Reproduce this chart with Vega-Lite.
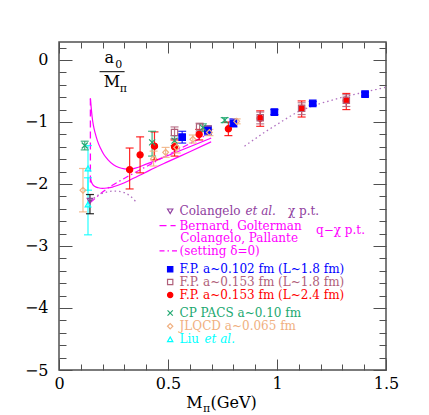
{
  "$schema": "https://vega.github.io/schema/vega-lite/v6.json",
  "width": 327,
  "height": 328,
  "autosize": "none",
  "padding": {"left": 59, "top": 42, "right": 43, "bottom": 45},
  "background": "white",
  "config": {
    "view": {"stroke": "#505050", "strokeWidth": 1.5},
    "axis": {"labelFont": "DejaVu Serif", "labelFontSize": 16, "labelColor": "#000000", "tickColor": "#505050", "tickWidth": 1, "domain": false, "grid": false, "labelFlush": false, "labelOverlap": false},
    "text": {"font": "DejaVu Serif"}
  },
  "datasets": {
    "points": [
      {"series": "FP153_L24", "x": 0.324, "y": -1.77, "lo": -2.08, "hi": -1.42},
      {"series": "FP153_L24", "x": 0.372, "y": -1.53, "lo": -1.82, "hi": -1.24},
      {"series": "FP153_L24", "x": 0.438, "y": -1.39, "lo": -1.61, "hi": -1.16},
      {"series": "FP153_L24", "x": 0.530, "y": -1.40, "lo": -1.55, "hi": -1.29},
      {"series": "FP153_L24", "x": 0.643, "y": -1.20, "lo": -1.29, "hi": -1.12},
      {"series": "FP153_L24", "x": 0.777, "y": -1.11, "lo": -1.22, "hi": -1.00},
      {"series": "FP153_L24", "x": 0.923, "y": -0.94, "lo": -1.07, "hi": -0.82},
      {"series": "FP153_L24", "x": 1.113, "y": -0.78, "lo": -0.92, "hi": -0.66},
      {"series": "FP153_L24", "x": 1.318, "y": -0.655, "lo": -0.80, "hi": -0.54},
      {"series": "FP153_L18", "x": 0.530, "y": -1.17, "lo": -1.27, "hi": -1.08},
      {"series": "FP153_L18", "x": 0.645, "y": -1.08, "lo": -1.16, "hi": -1.02},
      {"series": "FP153_L18", "x": 0.683, "y": -1.12, "lo": -1.18, "hi": -1.06},
      {"series": "FP153_L18", "x": 0.923, "y": -0.93, "lo": -1.03, "hi": -0.84},
      {"series": "FP153_L18", "x": 1.113, "y": -0.78, "lo": -0.88, "hi": -0.69},
      {"series": "FP153_L18", "x": 1.318, "y": -0.65, "lo": -0.75, "hi": -0.56},
      {"series": "FP102_L18", "x": 0.565, "y": -1.245, "lo": -1.34, "hi": -1.15},
      {"series": "FP102_L18", "x": 0.683, "y": -1.14, "lo": -1.21, "hi": -1.07},
      {"series": "FP102_L18", "x": 0.800, "y": -1.02, "lo": -1.08, "hi": -0.95},
      {"series": "FP102_L18", "x": 0.988, "y": -0.84, "lo": -0.88, "hi": -0.80},
      {"series": "FP102_L18", "x": 1.164, "y": -0.70, "lo": -0.73, "hi": -0.67},
      {"series": "FP102_L18", "x": 1.404, "y": -0.55, "lo": -0.58, "hi": -0.52},
      {"series": "CPPACS", "x": 0.118, "y": -1.38, "lo": -1.45, "hi": -1.31},
      {"series": "CPPACS", "x": 0.427, "y": -1.33, "lo": -1.55, "hi": -1.15},
      {"series": "CPPACS", "x": 0.530, "y": -1.30, "lo": -1.38, "hi": -1.22},
      {"series": "CPPACS", "x": 0.660, "y": -1.09, "lo": -1.15, "hi": -1.03},
      {"series": "CPPACS", "x": 0.760, "y": -0.97, "lo": -1.01, "hi": -0.93},
      {"series": "JLQCD", "x": 0.110, "y": -2.10, "lo": -2.45, "hi": -1.75},
      {"series": "JLQCD", "x": 0.434, "y": -1.59, "lo": -1.71, "hi": -1.47},
      {"series": "JLQCD", "x": 0.489, "y": -1.49, "lo": -1.57, "hi": -1.41},
      {"series": "JLQCD", "x": 0.540, "y": -1.41, "lo": -1.50, "hi": -1.33},
      {"series": "JLQCD", "x": 0.614, "y": -1.28, "lo": -1.34, "hi": -1.21},
      {"series": "JLQCD", "x": 0.690, "y": -1.17, "lo": -1.22, "hi": -1.12},
      {"series": "JLQCD", "x": 0.815, "y": -0.99, "lo": -1.03, "hi": -0.95},
      {"series": "Liu", "x": 0.133, "y": -1.75, "lo": -2.10, "hi": -1.38},
      {"series": "Liu", "x": 0.133, "y": -2.33, "lo": -2.82, "hi": -1.90},
      {"series": "Colangelo", "x": 0.142, "y": -2.27, "lo": -2.48, "hi": -2.17}
    ],
    "curves": [
      {"curve": "U", "x": 0.144, "y": -0.62}, {"curve": "U", "x": 0.148, "y": -0.78}, {"curve": "U", "x": 0.152, "y": -0.92},
      {"curve": "U", "x": 0.158, "y": -1.06}, {"curve": "U", "x": 0.166, "y": -1.18}, {"curve": "U", "x": 0.176, "y": -1.30},
      {"curve": "U", "x": 0.19, "y": -1.42}, {"curve": "U", "x": 0.205, "y": -1.52}, {"curve": "U", "x": 0.225, "y": -1.61},
      {"curve": "U", "x": 0.25, "y": -1.69}, {"curve": "U", "x": 0.275, "y": -1.735}, {"curve": "U", "x": 0.3, "y": -1.755},
      {"curve": "U", "x": 0.325, "y": -1.76}, {"curve": "U", "x": 0.35, "y": -1.745}, {"curve": "U", "x": 0.4, "y": -1.68},
      {"curve": "U", "x": 0.5, "y": -1.54}, {"curve": "U", "x": 0.6, "y": -1.40}, {"curve": "U", "x": 0.698, "y": -1.26},
      {"curve": "L", "x": 0.144, "y": -1.90}, {"curve": "L", "x": 0.148, "y": -1.96}, {"curve": "L", "x": 0.155, "y": -2.01},
      {"curve": "L", "x": 0.165, "y": -2.04}, {"curve": "L", "x": 0.18, "y": -2.06}, {"curve": "L", "x": 0.2, "y": -2.07},
      {"curve": "L", "x": 0.22, "y": -2.065}, {"curve": "L", "x": 0.245, "y": -2.05}, {"curve": "L", "x": 0.27, "y": -2.02},
      {"curve": "L", "x": 0.3, "y": -1.98}, {"curve": "L", "x": 0.324, "y": -1.94}, {"curve": "L", "x": 0.37, "y": -1.86},
      {"curve": "L", "x": 0.415, "y": -1.78}, {"curve": "L", "x": 0.5, "y": -1.64}, {"curve": "L", "x": 0.6, "y": -1.48},
      {"curve": "L", "x": 0.698, "y": -1.32},
      {"curve": "D", "x": 0.144, "y": -2.30}, {"curve": "D", "x": 0.17, "y": -2.22}, {"curve": "D", "x": 0.2, "y": -2.13},
      {"curve": "D", "x": 0.24, "y": -2.03}, {"curve": "D", "x": 0.28, "y": -1.95}, {"curve": "D", "x": 0.33, "y": -1.85},
      {"curve": "D", "x": 0.4, "y": -1.72}, {"curve": "D", "x": 0.5, "y": -1.53}, {"curve": "D", "x": 0.6, "y": -1.35},
      {"curve": "D", "x": 0.698, "y": -1.17},
      {"curve": "dotLow", "x": 0.144, "y": -2.28}, {"curve": "dotLow", "x": 0.16, "y": -2.23}, {"curve": "dotLow", "x": 0.18, "y": -2.18},
      {"curve": "dotLow", "x": 0.2, "y": -2.15}, {"curve": "dotLow", "x": 0.225, "y": -2.125}, {"curve": "dotLow", "x": 0.25, "y": -2.115},
      {"curve": "dotLow", "x": 0.275, "y": -2.12}, {"curve": "dotLow", "x": 0.3, "y": -2.14}, {"curve": "dotLow", "x": 0.325, "y": -2.19},
      {"curve": "dotLow", "x": 0.351, "y": -2.28},
      {"curve": "dotHigh", "x": 0.851, "y": -1.39}, {"curve": "dotHigh", "x": 0.9, "y": -1.27}, {"curve": "dotHigh", "x": 0.95, "y": -1.15},
      {"curve": "dotHigh", "x": 1.0, "y": -1.04}, {"curve": "dotHigh", "x": 1.05, "y": -0.93}, {"curve": "dotHigh", "x": 1.1, "y": -0.83},
      {"curve": "dotHigh", "x": 1.15, "y": -0.76}, {"curve": "dotHigh", "x": 1.2, "y": -0.70}, {"curve": "dotHigh", "x": 1.25, "y": -0.65},
      {"curve": "dotHigh", "x": 1.3, "y": -0.60}, {"curve": "dotHigh", "x": 1.35, "y": -0.56}, {"curve": "dotHigh", "x": 1.4, "y": -0.52},
      {"curve": "dotHigh", "x": 1.45, "y": -0.48}, {"curve": "dotHigh", "x": 1.5, "y": -0.44}
    ],
    "labels": [
      {"series": "Colangelo", "x": 0.553, "y": -2.44, "text": "Colangelo"},
      {"series": "Colangelo", "x": 1.05, "y": -2.44, "text": "χ p.t."},
      {"series": "qChPT", "x": 0.553, "y": -2.67, "text": "Bernard, Golterman"},
      {"series": "qChPT", "x": 0.556, "y": -2.875, "text": "Colangelo, Pallante"},
      {"series": "qChPT", "x": 0.553, "y": -3.08, "text": "(setting δ=0)"},
      {"series": "qChPT", "x": 1.179, "y": -2.74, "text": "q−χ p.t."},
      {"series": "FP102_L18", "x": 0.553, "y": -3.376, "text": "F.P. a~0.102 fm (L~1.8 fm)"},
      {"series": "FP153_L18", "x": 0.553, "y": -3.58, "text": "F.P. a~0.153 fm (L~1.8 fm)"},
      {"series": "FP153_L24", "x": 0.553, "y": -3.79, "text": "F.P. a~0.153 fm (L~2.4 fm)"},
      {"series": "CPPACS", "x": 0.553, "y": -4.08, "text": "CP PACS a~0.10 fm"},
      {"series": "JLQCD", "x": 0.553, "y": -4.295, "text": "JLQCD a~0.065 fm"},
      {"series": "Liu", "x": 0.553, "y": -4.505, "text": "Liu"}
    ],
    "italic": [
      {"series": "Colangelo", "x": 0.855, "y": -2.44, "text": "et al."},
      {"series": "Liu", "x": 0.667, "y": -4.505, "text": "et al."}
    ],
    "legsym": [
      {"series": "Colangelo", "x": 0.51, "y": -2.44},
      {"series": "FP102_L18", "x": 0.51, "y": -3.376},
      {"series": "FP153_L18", "x": 0.51, "y": -3.58},
      {"series": "FP153_L24", "x": 0.51, "y": -3.79},
      {"series": "CPPACS", "x": 0.51, "y": -4.08},
      {"series": "JLQCD", "x": 0.51, "y": -4.295},
      {"series": "Liu", "x": 0.51, "y": -4.505}
    ]
  },
  "layer": [
    {
      "encoding": {
        "x": {"field": "x", "type": "quantitative", "scale": {"domain": [0, 1.5], "nice": false, "zero": false},
          "axis": {"orient": "bottom", "title": null, "values": [0, 0.5, 1, 1.5], "format": "~g", "ticks": false, "labelPadding": 5}},
        "y": {"field": "y", "type": "quantitative", "scale": {"domain": [-5, 0.29], "nice": false, "zero": false},
          "axis": {"orient": "left", "title": null, "values": [-5, -4, -3, -2, -1, 0], "format": "d", "ticks": false, "labelPadding": 11}}
      },
      "layer": [
        {
          "data": {"name": "curves"},
          "transform": [{"filter": "datum.curve === 'U' || datum.curve === 'L'"}],
          "mark": {"type": "line", "color": "#ff00ff", "strokeWidth": 1.2, "interpolate": "monotone"},
          "encoding": {"detail": {"field": "curve"}}
        },
        {
          "data": {"name": "curves"},
          "transform": [{"filter": "datum.curve === 'D'"}],
          "mark": {"type": "line", "color": "#ff00ff", "strokeWidth": 1.2, "strokeDash": [6, 3, 1.5, 3], "interpolate": "monotone"},
          "encoding": {}
        },
        {
          "data": {"name": "curves"},
          "transform": [{"filter": "datum.curve === 'dotLow' || datum.curve === 'dotHigh'"}],
          "mark": {"type": "line", "color": "#b070c0", "strokeWidth": 1.3, "strokeDash": [1.5, 3], "interpolate": "monotone"},
          "encoding": {"detail": {"field": "curve"}}
        },
        {
          "data": {"values": [{"x": 0.144, "y": -0.62, "y2": -2.0}]},
          "mark": {"type": "rule", "color": "#ff00ff", "strokeWidth": 1.3, "strokeDash": [7, 4]},
          "encoding": {"y2": {"field": "y2"}}
        },
        {
          "data": {"values": [{"x": 0.461, "x2": 0.535, "y": -2.67}]},
          "mark": {"type": "rule", "color": "#ff00ff", "strokeWidth": 1.2, "strokeDash": [7, 4]},
          "encoding": {"x2": {"field": "x2"}}
        },
        {
          "data": {"values": [{"x": 0.461, "x2": 0.545, "y": -3.08}]},
          "mark": {"type": "rule", "color": "#ff00ff", "strokeWidth": 1.2, "strokeDash": [5, 3, 1.5, 3]},
          "encoding": {"x2": {"field": "x2"}}
        },
        {
          "data": {"values": [{"x": 0.186, "x2": 0.301, "y": -0.189}]},
          "mark": {"type": "rule", "color": "#000000", "strokeWidth": 1},
          "encoding": {"x2": {"field": "x2"}}
        },
        {
          "data": {"name": "points"},
          "mark": {"type": "rule", "strokeWidth": 1.2, "opacity": 0.85},
          "encoding": {
            "y": {"field": "lo", "type": "quantitative", "scale": {"domain": [-5, 0.29], "nice": false, "zero": false},
              "axis": {"orient": "left", "title": null, "values": [-5, -4, -3, -2, -1, 0], "format": "d", "ticks": false, "labelPadding": 11}},
            "y2": {"field": "hi"},
            "color": {"condition": {"test": "datum.series === 'Colangelo'", "value": "#000000"}, "field": "series", "type": "nominal",
              "scale": {"domain": ["FP102_L18", "FP153_L18", "FP153_L24", "CPPACS", "JLQCD", "Liu", "Colangelo", "qChPT"], "range": ["#0000ff", "#b0607a", "#ff0000", "#20a870", "#f0b080", "#00ffff", "#9040a0", "#ff00ff"]}, "legend": null}
          }
        },
        {
          "data": {"name": "points"},
          "mark": {"type": "tick", "orient": "horizontal", "size": 8, "thickness": 1.2, "opacity": 0.85},
          "encoding": {
            "y": {"field": "lo", "type": "quantitative", "scale": {"domain": [-5, 0.29], "nice": false, "zero": false},
              "axis": {"orient": "left", "title": null, "values": [-5, -4, -3, -2, -1, 0], "format": "d", "ticks": false, "labelPadding": 11}},
            "color": {"condition": {"test": "datum.series === 'Colangelo'", "value": "#000000"}, "field": "series", "type": "nominal",
              "scale": {"domain": ["FP102_L18", "FP153_L18", "FP153_L24", "CPPACS", "JLQCD", "Liu", "Colangelo", "qChPT"], "range": ["#0000ff", "#b0607a", "#ff0000", "#20a870", "#f0b080", "#00ffff", "#9040a0", "#ff00ff"]}, "legend": null}
          }
        },
        {
          "data": {"name": "points"},
          "mark": {"type": "tick", "orient": "horizontal", "size": 8, "thickness": 1.2, "opacity": 0.85},
          "encoding": {
            "y": {"field": "hi", "type": "quantitative", "scale": {"domain": [-5, 0.29], "nice": false, "zero": false},
              "axis": {"orient": "left", "title": null, "values": [-5, -4, -3, -2, -1, 0], "format": "d", "ticks": false, "labelPadding": 11}},
            "color": {"condition": {"test": "datum.series === 'Colangelo'", "value": "#000000"}, "field": "series", "type": "nominal",
              "scale": {"domain": ["FP102_L18", "FP153_L18", "FP153_L24", "CPPACS", "JLQCD", "Liu", "Colangelo", "qChPT"], "range": ["#0000ff", "#b0607a", "#ff0000", "#20a870", "#f0b080", "#00ffff", "#9040a0", "#ff00ff"]}, "legend": null}
          }
        },
        {
          "data": {"name": "points"},
          "mark": {"type": "point", "strokeWidth": 1.2, "opacity": 1},
          "encoding": {
            "shape": {"field": "series", "type": "nominal", "scale": {"domain": ["FP102_L18", "FP153_L18", "FP153_L24", "CPPACS", "JLQCD", "Liu", "Colangelo"], "range": ["square", "square", "circle", "M-1,-1L1,1M-1,1L1,-1", "diamond", "triangle-up", "triangle-down"]}, "legend": null},
            "fill": {"field": "series", "type": "nominal", "scale": {"domain": ["FP102_L18", "FP153_L18", "FP153_L24", "CPPACS", "JLQCD", "Liu", "Colangelo"], "range": ["#0000ff", "transparent", "#ff0000", "transparent", "transparent", "transparent", "transparent"]}, "legend": null},
            "stroke": {"field": "series", "type": "nominal", "scale": {"domain": ["FP102_L18", "FP153_L18", "FP153_L24", "CPPACS", "JLQCD", "Liu", "Colangelo"], "range": ["#0000ff", "#b0607a", "#ff0000", "#20a870", "#f0b080", "#00ffff", "#9040a0"]}, "legend": null},
            "size": {"field": "series", "type": "nominal", "scale": {"domain": ["FP102_L18", "FP153_L18", "FP153_L24", "CPPACS", "JLQCD", "Liu", "Colangelo"], "range": [42, 30, 60, 25, 35, 40, 40]}, "legend": null}
          }
        },
        {
          "data": {"name": "legsym"},
          "mark": {"type": "point", "strokeWidth": 1.2, "size": 28, "opacity": 1},
          "encoding": {
            "shape": {"field": "series", "type": "nominal", "scale": {"domain": ["FP102_L18", "FP153_L18", "FP153_L24", "CPPACS", "JLQCD", "Liu", "Colangelo"], "range": ["square", "square", "circle", "M-1,-1L1,1M-1,1L1,-1", "diamond", "triangle-up", "triangle-down"]}, "legend": null},
            "fill": {"field": "series", "type": "nominal", "scale": {"domain": ["FP102_L18", "FP153_L18", "FP153_L24", "CPPACS", "JLQCD", "Liu", "Colangelo"], "range": ["#0000ff", "transparent", "#ff0000", "transparent", "transparent", "transparent", "transparent"]}, "legend": null},
            "stroke": {"field": "series", "type": "nominal", "scale": {"domain": ["FP102_L18", "FP153_L18", "FP153_L24", "CPPACS", "JLQCD", "Liu", "Colangelo"], "range": ["#0000ff", "#b0607a", "#ff0000", "#20a870", "#f0b080", "#00ffff", "#9040a0"]}, "legend": null}
          }
        },
        {
          "data": {"name": "labels"},
          "mark": {"type": "text", "align": "left", "baseline": "middle", "fontSize": 12, "font": "DejaVu Serif"},
          "encoding": {
            "text": {"field": "text"},
            "color": {"field": "series", "type": "nominal",
              "scale": {"domain": ["FP102_L18", "FP153_L18", "FP153_L24", "CPPACS", "JLQCD", "Liu", "Colangelo", "qChPT"], "range": ["#0000ff", "#b0607a", "#ff0000", "#20a870", "#f0b080", "#00ffff", "#9040a0", "#ff00ff"]}, "legend": null}
          }
        },
        {
          "data": {"name": "italic"},
          "mark": {"type": "text", "align": "left", "baseline": "middle", "fontSize": 12, "fontStyle": "italic", "font": "DejaVu Serif"},
          "encoding": {
            "text": {"field": "text"},
            "color": {"field": "series", "type": "nominal",
              "scale": {"domain": ["FP102_L18", "FP153_L18", "FP153_L24", "CPPACS", "JLQCD", "Liu", "Colangelo", "qChPT"], "range": ["#0000ff", "#b0607a", "#ff0000", "#20a870", "#f0b080", "#00ffff", "#9040a0", "#ff00ff"]}, "legend": null}
          }
        },
        {
          "data": {"values": [
            {"x": 0.209, "y": -0.053, "text": "a"},
            {"x": 0.205, "y": -0.43, "text": "M"},
            {"x": 0.584, "y": -5.618, "text": "M"},
            {"x": 0.695, "y": -5.618, "text": "(GeV)"}
          ]},
          "mark": {"type": "text", "align": "left", "baseline": "alphabetic", "fontSize": 16, "font": "DejaVu Serif", "color": "#000000"},
          "encoding": {"text": {"field": "text"}}
        },
        {
          "data": {"values": [
            {"x": 0.258, "y": -0.134, "text": "0"},
            {"x": 0.279, "y": -0.51, "text": "π"},
            {"x": 0.660, "y": -5.677, "text": "π"}
          ]},
          "mark": {"type": "text", "align": "left", "baseline": "alphabetic", "fontSize": 11, "font": "DejaVu Serif", "color": "#000000"},
          "encoding": {"text": {"field": "text"}}
        }
      ]
    },
    {
      "data": {"values": [{"x": 0.5, "y": -1}]},
      "mark": {"type": "point", "opacity": 0},
      "encoding": {
        "x": {"field": "x", "type": "quantitative", "scale": {"domain": [0, 1.5], "nice": false, "zero": false},
          "axis": {"orient": "top", "offset": -328, "title": null, "labels": false, "values": [0, 0.1, 0.2, 0.3, 0.4, 0.5, 0.6, 0.7, 0.8, 0.9, 1, 1.1, 1.2, 1.3, 1.4, 1.5],
            "tickSize": {"condition": {"test": "abs(datum.value*2-round(datum.value*2))<0.001", "value": 11}, "value": 6}}},
        "y": {"field": "y", "type": "quantitative", "scale": {"domain": [-5, 0.29], "nice": false, "zero": false},
          "axis": {"orient": "right", "offset": -327, "title": null, "labels": false, "values": [-5, -4.8, -4.6, -4.4, -4.2, -4, -3.8, -3.6, -3.4, -3.2, -3, -2.8, -2.6, -2.4, -2.2, -2, -1.8, -1.6, -1.4, -1.2, -1, -0.8, -0.6, -0.4, -0.2, 0, 0.2],
            "tickSize": {"condition": {"test": "abs(datum.value-round(datum.value))<0.001", "value": 13}, "value": 7}}}
      }
    },
    {
      "data": {"values": [{"x": 0.5, "y": -1}]},
      "mark": {"type": "point", "opacity": 0},
      "encoding": {
        "x": {"field": "x", "type": "quantitative", "scale": {"domain": [0, 1.5], "nice": false, "zero": false},
          "axis": {"orient": "bottom", "offset": -328, "title": null, "labels": false, "values": [0, 0.1, 0.2, 0.3, 0.4, 0.5, 0.6, 0.7, 0.8, 0.9, 1, 1.1, 1.2, 1.3, 1.4, 1.5],
            "tickSize": {"condition": {"test": "abs(datum.value*2-round(datum.value*2))<0.001", "value": 11}, "value": 6}}},
        "y": {"field": "y", "type": "quantitative", "scale": {"domain": [-5, 0.29], "nice": false, "zero": false},
          "axis": {"orient": "left", "offset": -327, "title": null, "labels": false, "values": [-5, -4.8, -4.6, -4.4, -4.2, -4, -3.8, -3.6, -3.4, -3.2, -3, -2.8, -2.6, -2.4, -2.2, -2, -1.8, -1.6, -1.4, -1.2, -1, -0.8, -0.6, -0.4, -0.2, 0, 0.2],
            "tickSize": {"condition": {"test": "abs(datum.value-round(datum.value))<0.001", "value": 13}, "value": 7}}}
      }
    }
  ],
  "resolve": {"axis": {"x": "independent", "y": "independent"}}
}
